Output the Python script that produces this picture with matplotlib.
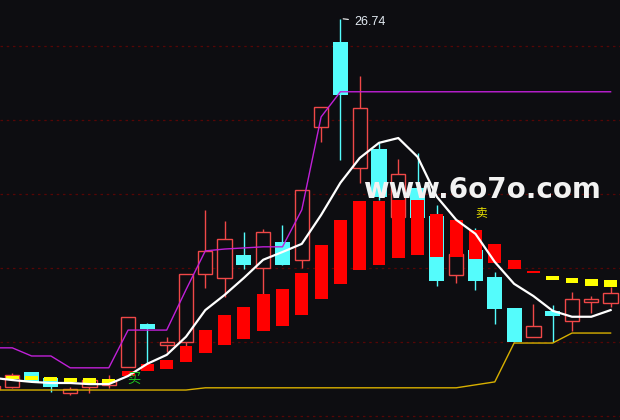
import numpy as np
import matplotlib
matplotlib.use('Agg')
import matplotlib.pyplot as plt

# K线数据 (index -1 is the bar cut off at the left edge)
idx = np.arange(-1, 32)
opens  = [16.73, 16.78, 17.19, 17.03, 16.62, 16.78, 16.84, 17.32, 18.49, 17.92, 18.00,
          19.84, 19.73, 20.35, 20.00, 20.70, 20.22, 23.81, 26.11, 22.70, 23.22, 21.38,
          22.16, 21.41, 19.81, 20.49, 19.76, 18.92, 18.14, 18.84, 18.57, 19.08, 19.05]
closes = [16.81, 17.11, 16.92, 16.78, 16.73, 16.97, 16.95, 18.68, 18.35, 18.00, 19.84,
          20.46, 20.78, 20.08, 20.97, 20.08, 22.11, 24.35, 24.68, 24.32, 21.92, 22.54,
          21.35, 19.65, 20.38, 19.65, 18.89, 18.00, 18.43, 18.70, 19.16, 19.16, 19.32]
highs  = [16.81, 17.16, 17.19, 17.03, 16.78, 17.03, 17.11, 18.68, 18.51, 18.14, 19.84,
          21.57, 21.27, 20.97, 21.05, 21.16, 22.11, 24.35, 26.74, 25.19, 23.38, 22.95,
          23.11, 21.70, 20.49, 21.08, 19.89, 18.92, 19.03, 19.00, 19.35, 19.24, 19.49]
lows   = [16.73, 16.76, 16.92, 16.65, 16.57, 16.62, 16.76, 17.32, 17.41, 17.73, 17.89,
          19.46, 19.22, 19.97, 19.30, 20.08, 20.00, 23.41, 22.92, 22.30, 21.84, 21.38,
          21.24, 19.51, 19.59, 19.41, 18.49, 18.00, 18.14, 18.00, 18.30, 18.78, 18.95]

# 指标柱 (low, high) and state
bar_lo = [17.00, 17.00, 16.97, 16.95, 16.92, 16.89, 16.89, 17.08, 17.22, 17.27, 17.46,
          17.70, 17.92, 18.08, 18.30, 18.43, 18.73, 19.16, 19.57, 19.95, 20.08, 20.27,
          20.35, 20.30, 20.30, 20.24, 20.14, 19.97, 19.86, 19.68, 19.59, 19.51, 19.49]
bar_hi = [17.08, 17.08, 17.08, 17.05, 17.03, 17.03, 17.00, 17.22, 17.41, 17.51, 17.89,
          18.32, 18.73, 18.95, 19.30, 19.43, 19.86, 20.62, 21.30, 21.81, 21.81, 21.84,
          21.84, 21.46, 21.30, 21.03, 20.65, 20.22, 19.92, 19.78, 19.73, 19.70, 19.68]
bar_up = [False] * 7 + [True] * 22 + [False] * 4

# 均线 / 上轨 / 下轨
ma = [17.03, 16.97, 16.92, 16.89, 16.89, 16.86, 16.86, 17.08, 17.41, 17.65, 18.14,
      18.86, 19.27, 19.73, 20.22, 20.43, 20.65, 21.43, 22.30, 22.97, 23.38, 23.51,
      23.00, 21.92, 21.30, 20.92, 20.16, 19.57, 19.24, 18.84, 18.68, 18.68, 18.86]
upper = [17.84, 17.84, 17.62, 17.62, 17.30, 17.30, 17.30, 18.32, 18.32, 18.32, 19.41,
         20.46, 20.51, 20.54, 20.57, 20.57, 21.57, 24.08] + [24.76] * 15
lower = [16.70] * 11 + [16.76] * 14 + [16.84, 16.92, 17.97, 17.97, 17.97, 18.24, 18.24, 18.24]

grid_levels = [26, 24, 22, 20, 18, 16]

bg = '#0d0d11'
red_edge = '#f04848'
cyan = '#54fcfc'

fig = plt.figure(figsize=(6.2, 4.2), dpi=100, facecolor=bg)
ax = fig.add_axes([0, 0, 1, 1])
ax.set_facecolor(bg)
ax.set_xlim(-0.637, 31.487)
ax.set_ylim(15.89, 27.24)
ax.axis('off')

for g in grid_levels:
    ax.axhline(g, color='#560606', lw=0.9, ls=(0, (2, 3)), zorder=1)

o = np.array(opens); c = np.array(closes); h = np.array(highs); l = np.array(lows)
up = c >= o
top = np.maximum(o, c); bot = np.minimum(o, c)

# 阴线: full wick then filled body
ax.vlines(idx[~up], l[~up], h[~up], color=cyan, lw=1, zorder=2)
ax.bar(idx[~up], top[~up] - bot[~up], bottom=bot[~up], width=0.78,
       color=cyan, lw=0, zorder=3)
# 阳线: hollow body, wick outside
ax.vlines(idx[up], top[up], h[up], color=red_edge, lw=1, zorder=2)
ax.vlines(idx[up], l[up], bot[up], color=red_edge, lw=1, zorder=2)
ax.bar(idx[up], top[up] - bot[up], bottom=bot[up], width=0.74,
       facecolor=bg, edgecolor=red_edge, lw=1, zorder=3)

# 指标柱
blo = np.array(bar_lo); bhi = np.array(bar_hi); bu = np.array(bar_up)
ax.bar(idx[bu], bhi[bu] - blo[bu], bottom=blo[bu], width=0.67, color='#ff0000', lw=0, zorder=4)
ax.bar(idx[~bu], bhi[~bu] - blo[~bu], bottom=blo[~bu], width=0.67, color='#ffff00', lw=0, zorder=4)

ax.plot(idx, upper, color='#c020d8', lw=1, zorder=5)
ax.plot(idx, lower, color='#d8b000', lw=1, zorder=5)
ax.plot(idx, ma, color='white', lw=1.6, zorder=6)

# 最高价标注
ax.annotate('26.74', xy=(17, 26.74), xytext=(17.7, 26.65), color='#e4ecf4',
            fontsize=9, family='Liberation Sans', va='center', ha='left',
            arrowprops=dict(arrowstyle='-', color='white', lw=0.8), zorder=7)

ax.text(6.3, 17.0, '买', color='#1ec81e', fontsize=9.5, family=['Noto Sans CJK SC', 'DejaVu Sans'],
        ha='center', va='center', zorder=7)
ax.text(24.28, 21.51, '卖', color='#e8e000', fontsize=8.5, family=['Noto Sans CJK SC', 'DejaVu Sans'],
        ha='center', va='center', zorder=7)

ax.text(0.777, 0.529, 'www.6o7o.com', transform=ax.transAxes, color='#f2f2f2',
        fontsize=20, fontweight='bold', family='DejaVu Sans', ha='center', va='baseline', zorder=8)

fig.savefig('out.png', dpi=100, facecolor=bg)
